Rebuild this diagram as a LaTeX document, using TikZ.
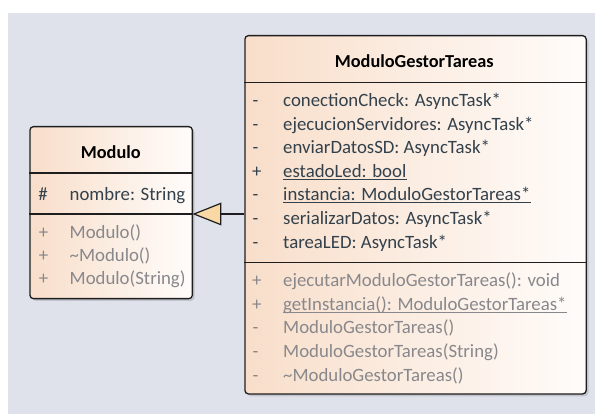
\documentclass[tikz,border=0pt]{standalone}
\usepackage{fontspec}
\setmainfont{Carlito}
\usetikzlibrary{arrows.meta}

\definecolor{bgcol}{HTML}{DFE2EB}
\definecolor{peach}{HTML}{F8DECA}
\definecolor{cream}{HTML}{FFFCFA}
\definecolor{attrcol}{HTML}{33414C}
\definecolor{opcol}{HTML}{88888C}
\definecolor{edgecol}{HTML}{1E1E1E}
\definecolor{tipfill}{HTML}{F9D8A6}

\newcommand{\umlfont}{\fontsize{18.8}{22}\selectfont}
\newcommand{\umltitlefont}{\fontsize{18.3}{22}\selectfont\bfseries}

\begin{document}
\begin{tikzpicture}[x=1pt, y=-1pt,
  classbox/.style={draw=edgecol, line width=1.3pt, rounded corners=3.5pt,
    left color=peach, right color=cream, inner sep=0pt, anchor=north west},
  boxshadow/.style={fill=black, opacity=0.13, rounded corners=4pt},
  divider/.style={draw=edgecol, line width=1.3pt},
  title/.style={anchor=base, inner sep=0pt, font=\umltitlefont, text=black},
  attr/.style={anchor=base west, inner sep=0pt, font=\umlfont, text=attrcol},
  attrvis/.style={attr, anchor=base},
  oper/.style={anchor=base west, inner sep=0pt, font=\umlfont, text=opcol},
  opervis/.style={oper, anchor=base},
  staticline/.style={line width=0.9pt},
  generalization/.style={draw=edgecol, line width=1.2pt,
    -{Triangle[length=29pt, width=22.7pt, fill=tipfill]}}
]
\useasboundingbox (0,0) rectangle (595,414);
\fill[bgcol] (8,13) rectangle (595,414);

% drop shadows
\fill[boxshadow] (32.3,129) rectangle (194.7,301);
\fill[boxshadow] (247.3,38) rectangle (588.5,396.3);

% class Modulo
\node[classbox, minimum width=162.4pt, minimum height=172pt] (modulo) at (29.3,126) {};
\draw[divider] (29.3,173) -- (191.7,173);
\draw[divider] (29.3,214) -- (191.7,214);
\coordinate (modsep) at (192.4,214);
\node[title] (m-title) at (110.8,159) {Modulo};
\node[attrvis] (m-v1) at (43,200.5) {\#};
\node[attr] (m-a1) at (69.5,200.5) {nombre: String};
\node[opervis] (m-w1) at (43.5,238.2) {+};
\node[oper] (m-o1) at (69.5,238.2) {Modulo()};
\node[opervis] (m-w2) at (43.5,261.4) {+};
\node[oper] (m-o2) at (69.5,261.4) {\textasciitilde Modulo()};
\node[opervis] (m-w3) at (43.5,284.6) {+};
\node[oper] (m-o3) at (69.5,284.6) {Modulo(String)};

% class ModuloGestorTareas
\node[classbox, minimum width=341.2pt, minimum height=358.3pt] (gestor) at (244.3,35) {};
\draw[divider] (244.3,82.7) -- (585.5,82.7);
\draw[divider] (244.3,262.7) -- (585.5,262.7);
\node[title] (g-title) at (414.3,67.2) {ModuloGestorTareas};

\node[attrvis] (g-v1) at (255.5,106.5) {-};
\node[attr] (g-a1) at (283,106.5) {conectionCheck: AsyncTask*};
\node[attrvis] (g-v2) at (255.5,130.1) {-};
\node[attr] (g-a2) at (283,130.1) {ejecucionServidores: AsyncTask*};
\node[attrvis] (g-v3) at (255.5,153.7) {-};
\node[attr] (g-a3) at (283,153.7) {enviarDatosSD: AsyncTask*};
\node[attrvis] (g-v4) at (256.7,177.3) {+};
\node[attr] (g-a4) at (283,177.3) {estadoLed: bool};
\node[attrvis] (g-v5) at (255.5,200.9) {-};
\node[attr] (g-a5) at (283,200.9) {instancia: ModuloGestorTareas*};
\node[attrvis] (g-v6) at (255.5,224.5) {-};
\node[attr] (g-a6) at (283,224.5) {serializarDatos: AsyncTask*};
\node[attrvis] (g-v7) at (255.5,248.1) {-};
\node[attr] (g-a7) at (283,248.1) {tareaLED: AsyncTask*};

\node[opervis] (g-w1) at (256.7,286.5) {+};
\node[oper] (g-o1) at (283,286.5) {ejecutarModuloGestorTareas(): void};
\node[opervis] (g-w2) at (256.7,310.2) {+};
\node[oper] (g-o2) at (283,310.2) {getInstancia(): ModuloGestorTareas*};
\node[opervis] (g-w3) at (255.5,333.9) {-};
\node[oper] (g-o3) at (283,333.9) {ModuloGestorTareas()};
\node[opervis] (g-w4) at (255.5,357.6) {-};
\node[oper] (g-o4) at (283,357.6) {ModuloGestorTareas(String)};
\node[opervis] (g-w5) at (255.5,381.3) {-};
\node[oper] (g-o5) at (283,381.3) {\textasciitilde ModuloGestorTareas()};

% static members are underlined
\draw[staticline, attrcol] ([yshift=-1.8pt]g-a4.base west) -- ([yshift=-1.8pt]g-a4.base east);
\draw[staticline, attrcol] ([yshift=-1.8pt]g-a5.base west) -- ([yshift=-1.8pt]g-a5.base east);
\draw[staticline, opcol] ([yshift=-1.8pt]g-o2.base west) -- ([yshift=-1.8pt]g-o2.base east);

% generalization: ModuloGestorTareas specializes Modulo
\draw[generalization] (gestor.west |- modsep) -- (modsep);
\end{tikzpicture}
\end{document}
